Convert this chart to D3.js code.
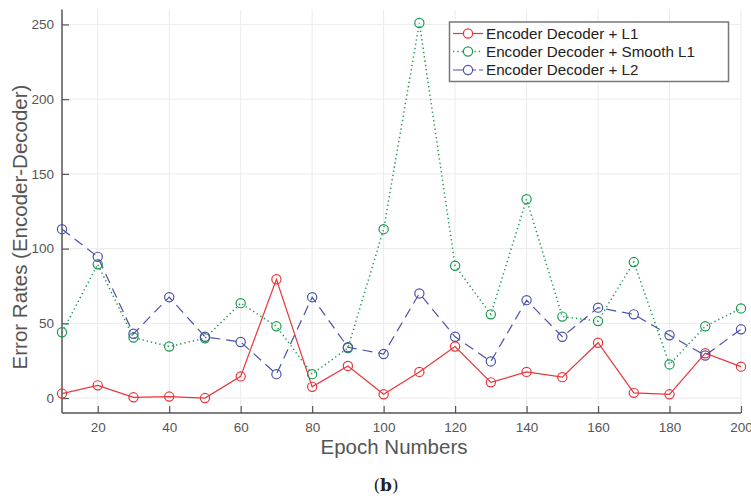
<!DOCTYPE html>
<html><head><meta charset="utf-8">
<script src="https://cdn.jsdelivr.net/npm/d3@7/dist/d3.min.js"></script>
<style>body{margin:0;background:#fff;} svg{display:block;}</style>
</head><body><svg id="c" width="751" height="500"></svg>
<script>
const epochs = [10,20,30,40,50,60,70,80,90,100,110,120,130,140,150,160,170,180,190,200];
const l1 = [3,8.5,0.5,1,0,14.5,79.5,7.5,21.5,2.5,17.5,34.5,10.5,17.5,14,37,3.5,2.5,30,21];
const smoothL1 = [44,89.5,40.5,34.5,40,63.5,48,16,33.5,113,251,88.5,56,133,54.5,51.5,91,22.5,48,60];
const l2 = [113,94.5,43,67.5,41,37.5,16,67.5,34,29.5,70,41,24.5,65.5,41,60.5,56,42,28.5,46];
const seriesNames = ["Encoder Decoder + L1","Encoder Decoder + Smooth L1","Encoder Decoder + L2"];
const xTicks = [20,40,60,80,100,120,140,160,180,200];
const yTicks = [0,50,100,150,200,250];

const svg = d3.select("#c");
const L=62, R=741, T=9.5, B=413;
const x = d3.scaleLinear().domain([10,200]).range([L,R]);
const y = d3.scaleLinear().domain([-10,260]).range([B,T]);
const SANS = "Arial, 'Liberation Sans', sans-serif";

// grid
const g = svg.append("g");
g.selectAll(".vg").data(xTicks).join("line")
  .attr("x1",d=>x(d)).attr("x2",d=>x(d)).attr("y1",T).attr("y2",B)
  .attr("stroke","#ebebeb").attr("stroke-width",1);
g.selectAll(".hg").data(yTicks).join("line")
  .attr("x1",L).attr("x2",R).attr("y1",d=>y(d)).attr("y2",d=>y(d))
  .attr("stroke","#ebebeb").attr("stroke-width",1);

// axes
const xAxis = d3.axisBottom(x).tickValues(xTicks).tickSize(-7).tickPadding(9).tickFormat(d3.format("d"));
const yAxis = d3.axisLeft(y).tickValues(yTicks).tickSize(-7).tickPadding(15).tickFormat(d3.format("d"));
const ax = svg.append("g").attr("transform",`translate(0,${B})`).call(xAxis);
const ay = svg.append("g").attr("transform",`translate(${L},0)`).call(yAxis);
[ax,ay].forEach(a=>{
  a.select(".domain").attr("stroke","#555").attr("stroke-width",1.5);
  a.selectAll(".tick line").attr("stroke","#555").attr("stroke-width",1.2);
  a.selectAll("text").attr("fill","#555").style("font-family",SANS).style("font-size","13.5px");
});
ay.selectAll("text").attr("dx","7");
ax.select(".domain").attr("d",`M${L},0H${R}`);
ay.select(".domain").attr("d",`M0,${B}V${T}`);

// lines
const series = [
  {name:seriesNames[0], vals:l1, color:"#e8353b", dash:null, w:1.2},
  {name:seriesNames[1], vals:smoothL1, color:"#1a9a50", dash:"1.3,3", w:1.5},
  {name:seriesNames[2], vals:l2, color:"#4b51a8", dash:"10,6", w:1.2}
];
const line = d3.line().x((d,i)=>x(epochs[i])).y(d=>y(d));
series.forEach(s=>{
  svg.append("path").datum(s.vals).attr("d",line).attr("fill","none")
    .attr("stroke",s.color).attr("stroke-width",s.w).attr("stroke-dasharray",s.dash);
  svg.append("g").selectAll("circle").data(s.vals).join("circle")
    .attr("cx",(d,i)=>x(epochs[i])).attr("cy",d=>y(d)).attr("r",4.6)
    .attr("fill","none").attr("stroke",s.color).attr("stroke-width",1.2);
});

// legend
const lg = svg.append("g");
lg.append("rect").attr("x",449.5).attr("y",22).attr("width",279).attr("height",59.5)
  .attr("fill","#fff").attr("stroke","#777").attr("stroke-width",1.5);
const rows=[33.5,51.5,70];
series.forEach((s,i)=>{
  lg.append("line").attr("x1",453).attr("x2",483).attr("y1",rows[i]).attr("y2",rows[i])
    .attr("stroke",s.color).attr("stroke-width",s.w).attr("stroke-dasharray",s.dash?(i==1?"1.3,3":"10,3"):null);
  lg.append("circle").attr("cx",468).attr("cy",rows[i]).attr("r",4.6)
    .attr("fill","#fff").attr("stroke",s.color).attr("stroke-width",1.2);
  lg.append("text").attr("x",486).attr("y",rows[i]).attr("dy","0.36em")
    .attr("fill","#222").style("font-family",SANS).style("font-size","15.2px")
    .text(s.name);
});

// titles
svg.append("text").attr("x",394).attr("y",454).attr("text-anchor","middle")
  .attr("fill","#555").style("font-family",SANS).style("font-size","20.5px")
  .text("Epoch Numbers");
svg.append("text").attr("transform",`translate(27,227) rotate(-90)`).attr("text-anchor","middle")
  .attr("fill","#555").style("font-family",SANS).style("font-size","20.5px")
  .text("Error Rates (Encoder-Decoder)");
const cap = svg.append("text").attr("x",386).attr("y",491).attr("text-anchor","middle")
  .attr("fill","#222").style("font-family","'DejaVu Serif', 'Liberation Serif', serif").style("font-size","17px");
cap.append("tspan").text("(");
cap.append("tspan").attr("font-weight","bold").text("b");
cap.append("tspan").text(")");
</script></body></html>
